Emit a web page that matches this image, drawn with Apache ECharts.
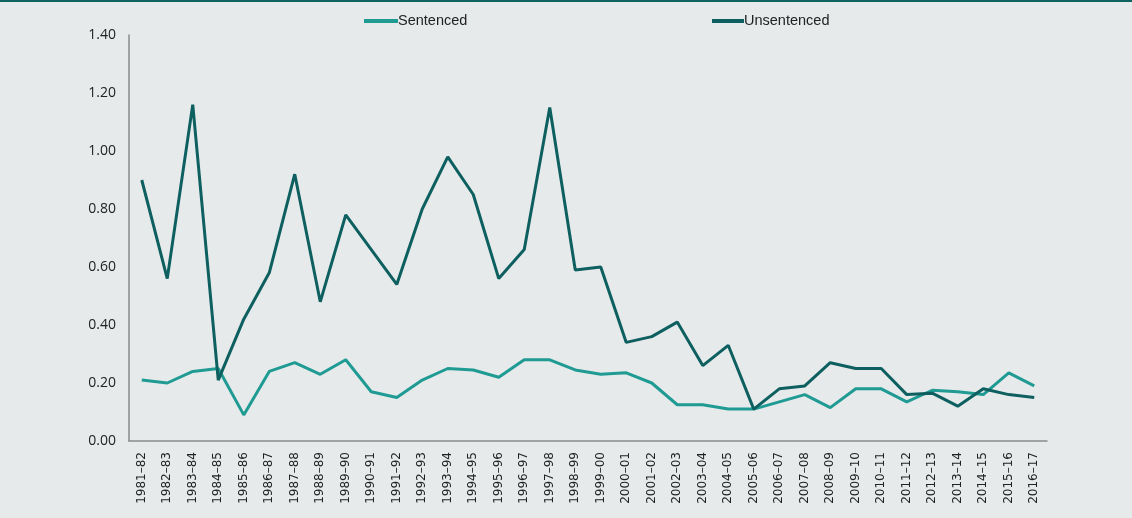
<!DOCTYPE html>
<html><head><meta charset="utf-8">
<script src="https://cdn.jsdelivr.net/npm/echarts@6/dist/echarts.min.js"></script>
<style>html,body{margin:0;padding:0;background:#e6eaeb;}#c{width:1132px;height:518px;border-top:2px solid #0e6360;box-sizing:border-box;}</style>
</head><body><div id="c"></div>
<script>
const categories = ["1981–82","1982–83","1983–84","1984–85","1985–86","1986–87","1987–88","1988–89","1989–90","1990–91","1991–92","1992–93","1993–94","1994–95","1995–96","1996–97","1997–98","1998–99","1999–00","2000–01","2001–02","2002–03","2003–04","2004–05","2005–06","2006–07","2007–08","2008–09","2009–10","2010–11","2011–12","2012–13","2013–14","2014–15","2015–16","2016–17"];
const sentenced = [0.21,0.20,0.24,0.25,0.09,0.24,0.27,0.23,0.28,0.17,0.15,0.21,0.25,0.245,0.22,0.28,0.28,0.245,0.23,0.235,0.20,0.125,0.125,0.11,0.11,0.135,0.16,0.115,0.18,0.18,0.135,0.175,0.17,0.16,0.235,0.19];
const unsentenced = [0.90,0.56,1.16,0.21,0.42,0.58,0.92,0.48,0.78,0.66,0.54,0.80,0.98,0.85,0.56,0.66,1.15,0.59,0.60,0.34,0.36,0.41,0.26,0.33,0.11,0.18,0.19,0.27,0.25,0.25,0.16,0.165,0.12,0.18,0.16,0.15];
const yTicks = {min:0, max:1.4, interval:0.2};

const chart = echarts.init(document.getElementById('c'));
const font = "'Liberation Sans',sans-serif";
const legendText = {fontFamily:font, fontSize:14.5, color:'#222', lineHeight:16, padding:[0,0,0,-5]};
chart.setOption({
  backgroundColor:'#e6eaeb',
  animation:false,
  legend:[
    {data:['Sentenced'], left:364, top:11, padding:0, itemWidth:34, itemHeight:4, icon:'rect', textStyle:legendText},
    {data:['Unsentenced'], left:712, top:11, padding:0, itemWidth:32, itemHeight:4, icon:'rect', textStyle:legendText}
  ],
  grid:{left:129, right:85, top:33, bottom:77, containLabel:false},
  xAxis:{type:'category', data:categories, boundaryGap:true,
    axisLine:{lineStyle:{color:'#8a8a8a', width:1.5}}, axisTick:{show:false},
    axisLabel:{rotate:90, interval:0, fontFamily:'DejaVu Sans', fontSize:12, color:'#222', margin:11}},
  yAxis:{type:'value', min:yTicks.min, max:yTicks.max, interval:yTicks.interval,
    axisLine:{show:true, lineStyle:{color:'#8a8a8a', width:1.5}}, axisTick:{show:false}, splitLine:{show:false},
    axisLabel:{formatter:v=>v.toFixed(2), fontFamily:'Open Sans', fontSize:14, color:'#222', margin:13}},
  series:[
    {name:'Sentenced', type:'line', data:sentenced, symbol:'none', color:'#1f9b93', lineStyle:{width:3, color:'#1f9b93'}},
    {name:'Unsentenced', type:'line', data:unsentenced, symbol:'none', color:'#0e5f5f', lineStyle:{width:3, color:'#0e5f5f'}}
  ]
});
</script></body></html>
